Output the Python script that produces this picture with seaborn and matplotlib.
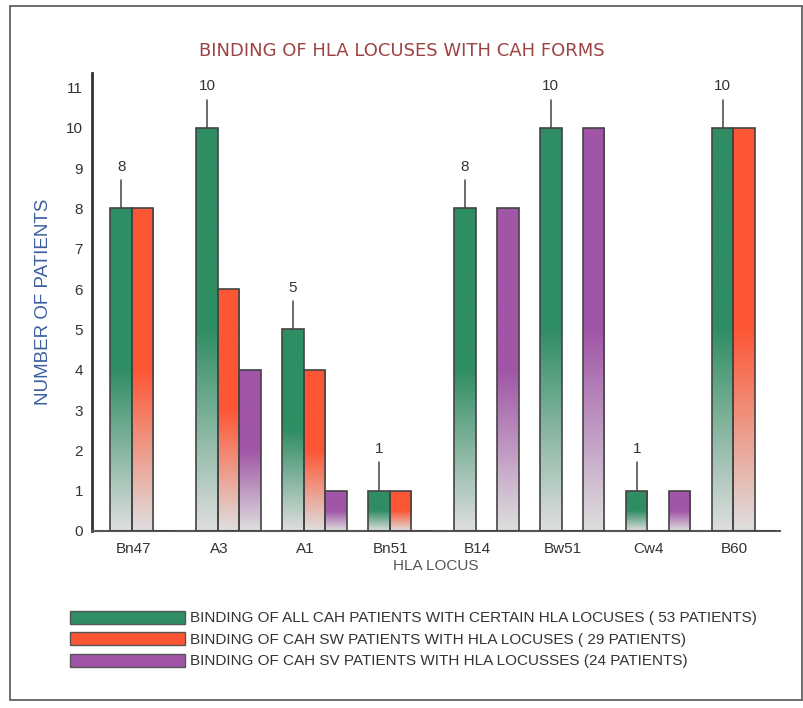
import numpy as np
import pandas as pd
import seaborn as sns
from matplotlib import pyplot as plt
from matplotlib.colors import to_rgba
from matplotlib.patches import Patch, Rectangle

# values
loci = ['Bn47', 'A3', 'A1', 'Bn51', 'B14', 'Bw51', 'Cw4', 'B60']
all_cah = [8, 10, 5, 1, 8, 10, 1, 10]
sw_cah = [8, 6, 4, 1, 0, 0, 0, 10]
sv_cah = [0, 4, 1, 0, 8, 10, 1, 0]
series = [
    'BINDING OF ALL CAH PATIENTS WITH CERTAIN HLA LOCUSES ( 53 PATIENTS)',
    'BINDING OF CAH SW PATIENTS WITH HLA LOCUSES ( 29 PATIENTS)',
    'BINDING OF CAH SV PATIENTS WITH HLA LOCUSSES (24 PATIENTS)',
]
colors = ['#2f8d63', '#fd5634', '#a055a6']

df = pd.DataFrame({
    'locus': loci * 3,
    'patients': all_cah + sw_cah + sv_cah,
    'group': [series[0]] * 8 + [series[1]] * 8 + [series[2]] * 8,
})

sns.set_style('white')
plt.rcParams['font.family'] = ['Liberation Sans', 'DejaVu Sans']

fig = plt.figure(figsize=(8.04, 7.08), dpi=100)
ax = fig.add_axes([0.1144, 0.25, 0.856, 0.647])

sns.barplot(data=df, x='locus', y='patients', hue='group', hue_order=series,
            palette=colors, width=0.75, gap=0, edgecolor='#444444', linewidth=1.2,
            legend=False, ax=ax)

# fill each bar with a colour -> light grey fade on its lower half
grey = np.array(to_rgba('#dedede'))
for container, col in zip(ax.containers, colors):
    c = np.array(to_rgba(col))
    for bar in container:
        h = bar.get_height()
        bar.set_facecolor('none')
        bar.set_zorder(3)
        if h <= 0:
            continue
        t = np.linspace(0, 1, 100)[:, None]
        mix = np.clip(t * 2, 0, 1)
        grad = (c * mix + grey * (1 - mix))[::-1].reshape(100, 1, 4)
        x0 = bar.get_x()
        im = ax.imshow(grad, extent=[x0, x0 + bar.get_width(), 0, h],
                       aspect='auto', zorder=2, interpolation='bilinear')
        im.set_clip_path(bar)

# value labels with a short leader line on the green bars
for bar in ax.containers[0]:
    h = bar.get_height()
    xc = bar.get_x() + bar.get_width() / 2
    ax.plot([xc, xc], [h, h + 0.7], color='#444444', lw=1.1, zorder=4)
    ax.text(xc, h + 0.85, f'{int(h)}', ha='center', va='bottom', fontsize=11, color='#333333')

ax.set_xlim(-0.59, 7.42)
ax.set_ylim(0, 11.36)
ax.set_yticks(range(0, 12))
ax.set_xticks(np.arange(len(loci)) - 0.11, loci)
ax.tick_params(axis='both', labelsize=11, colors='#333333', length=3, direction='out')
ax.tick_params(axis='x', length=0, pad=8)
for side in ['top', 'right']:
    ax.spines[side].set_visible(False)
ax.spines['left'].set_color('#333333')
ax.spines['bottom'].set_color('#555555')
ax.spines['left'].set_linewidth(2)
ax.spines['bottom'].set_linewidth(1.5)

ax.set_xlabel('HLA LOCUS', fontsize=11, color='#555555', labelpad=2)
ax.set_ylabel('NUMBER OF PATIENTS', fontsize=13.5, color='#3b5fa0', labelpad=10)
fig.text(0.5, 0.928, 'BINDING OF HLA LOCUSES WITH CAH FORMS', ha='center', va='center',
         fontsize=13, color='#9c4444', family='DejaVu Sans')

handles = [Patch(facecolor=c, edgecolor='#555555', linewidth=1) for c in colors]
fig.legend(handles, series, loc='upper left', bbox_to_anchor=(0.078, 0.148),
           frameon=False, fontsize=11, handlelength=7.5, handleheight=0.9,
           handletextpad=0.3, labelspacing=0.45, labelcolor='#333333', borderpad=0)

fig.patches.append(Rectangle((0.012, 0.012), 0.985, 0.979, transform=fig.transFigure,
                             fill=False, edgecolor='#555555', linewidth=1.2))

fig.savefig('out.png', dpi=100)
